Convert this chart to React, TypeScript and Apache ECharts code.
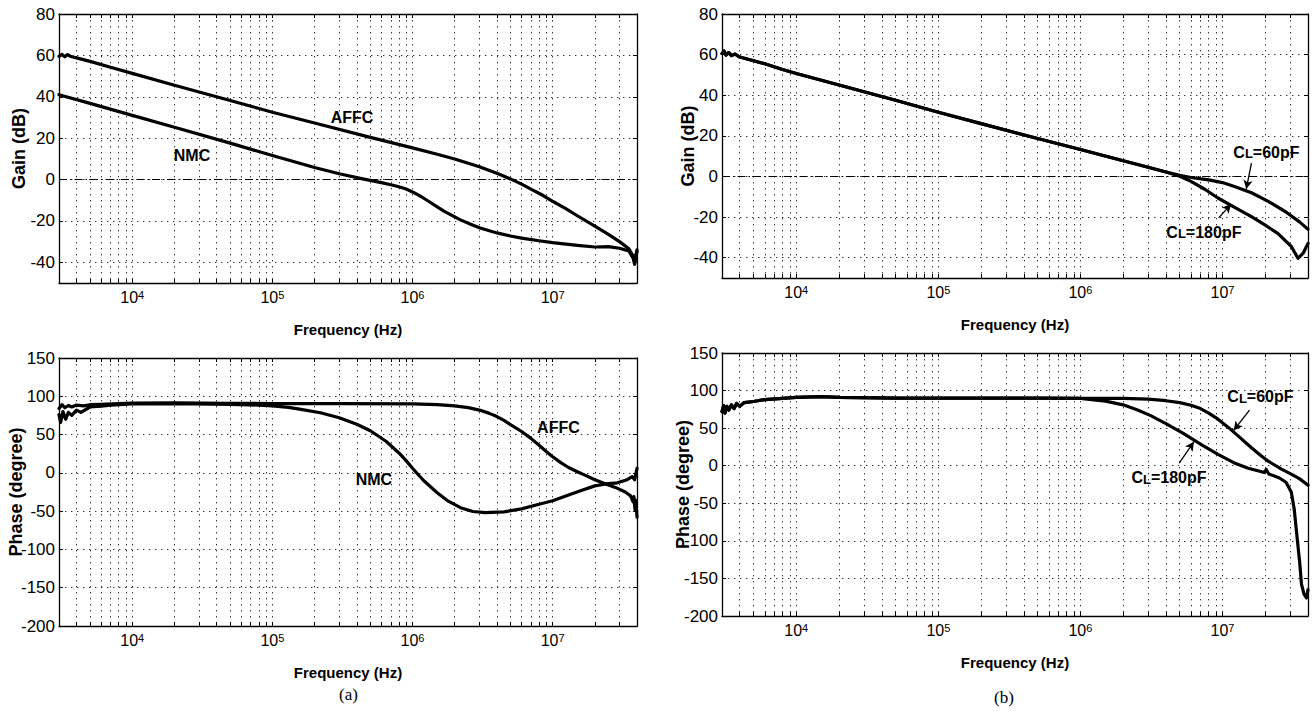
import React, { useEffect, useRef } from 'react';
import * as echarts from 'echarts';

const FONT = "'Liberation Sans', Arial, Helvetica, sans-serif";

// ---- axes ----
const F_MIN = 3000;
const F_MAX = 4e7;
const decadeLabels = [1e4, 1e5, 1e6, 1e7];
const mantissas = [1, 2, 3, 4, 5, 6, 7, 8, 9];
const decades = [1e3, 1e4, 1e5, 1e6, 1e7];
const gainTicks = [-40, -20, 0, 20, 40, 60, 80];
const phaseTicks = [-200, -150, -100, -50, 0, 50, 100, 150];
const GAIN_MIN = -50, GAIN_MAX = 80;
const PHASE_MIN = -200, PHASE_MAX = 150;

// ---- (a) gain (dB) ----
const affcGainA: [number, number][] = [
  [3000, 59.5], [3150, 60.5], [3300, 59.3], [3450, 60.4], [3600, 59.6], [4000, 58.8], [5000, 57.1], [7000, 54.3],
  [1e4, 51.3], [2e4, 45.6], [5e4, 38.2], [1e5, 32.5], [2e5, 27.3], [5e5, 20.4], [1e6, 15.3], [1.5e6, 12.2],
  [2e6, 9.9], [3e6, 6.2], [4e6, 3.0], [5e6, 0.3], [6e6, -2.2], [7e6, -4.6], [8.5e6, -7.6], [1e7, -10.5],
  [1.25e7, -14.2], [1.5e7, -17.5], [2e7, -22.5], [2.5e7, -26.5], [3e7, -30], [3.5e7, -33.5], [3.75e7, -37],
  [3.85e7, -40], [3.92e7, -36.5], [4e7, -35],
];
const nmcGainA: [number, number][] = [
  [3000, 41], [5000, 36.8], [1e4, 31], [2e4, 25.3], [5e4, 17.6], [1e5, 11.6], [2e5, 5.8], [3e5, 2.8],
  [4.5e5, 0.2], [6e5, -1.5], [7e5, -2.5], [8e5, -3.5], [9e5, -4.6], [1e6, -6], [1.15e6, -8.2], [1.3e6, -10.5],
  [1.5e6, -13.2], [1.7e6, -15.5], [2.2e6, -19.5], [2.6e6, -21.6], [3e6, -23.3], [4e6, -25.8], [5e6, -27.3],
  [6e6, -28.3], [8e6, -29.6], [1e7, -30.5], [1.5e7, -31.8], [2e7, -32.6], [2.5e7, -32.4], [3e7, -33.2],
  [3.5e7, -34.5], [3.75e7, -38], [3.85e7, -41], [3.92e7, -37], [4e7, -34],
];

// ---- (a) phase (degree) ----
const affcPhaseA: [number, number][] = [
  [3000, 84], [3150, 89], [3300, 85], [3500, 88], [3700, 86], [4000, 88.5], [4500, 87.5], [5000, 89], [6000, 89.5],
  [8000, 90.5], [1e4, 91], [2e4, 91.3], [5e4, 90.8], [1e5, 90.5], [3e5, 90.3], [1e6, 90], [1.5e6, 89], [2e6, 87.5],
  [2.5e6, 85.2], [3e6, 82], [3.5e6, 78], [4e6, 73.5], [4.5e6, 68.5], [5e6, 63], [6e6, 54], [7e6, 45], [8e6, 36],
  [9e6, 28], [1e7, 21], [1.15e7, 13], [1.3e7, 7], [1.5e7, 1.5], [1.7e7, -3], [2e7, -9], [2.2e7, -12], [2.5e7, -15.8],
  [2.8e7, -19], [3.3e7, -25], [3.6e7, -30], [3.75e7, -38], [3.8e7, -31], [3.87e7, -48], [3.93e7, -36], [4e7, -58],
];
const nmcPhaseA: [number, number][] = [
  [3000, 76], [3080, 66], [3200, 80], [3350, 70], [3500, 79], [3700, 75], [4000, 82], [4300, 79], [5000, 86],
  [6000, 87], [7000, 88.5], [1e4, 90], [2e4, 90.5], [5e4, 89.5], [7e4, 88.8], [1e5, 87.5], [1.3e5, 85.5],
  [1.6e5, 83], [2.2e5, 78.5], [3e5, 72], [4e5, 63.5], [5e5, 55], [6.5e5, 41], [8e5, 26], [9e5, 16], [1e6, 6],
  [1.1e6, -2.5], [1.2e6, -10], [1.35e6, -18.5], [1.5e6, -26], [1.8e6, -37], [2.2e6, -45.5], [2.7e6, -50.5],
  [3.3e6, -52], [4.5e6, -51], [6e6, -47], [8e6, -41], [1e7, -36.5], [1.3e7, -29], [1.6e7, -23], [2e7, -17],
  [2.4e7, -14.5], [2.9e7, -13], [3.4e7, -9], [3.7e7, -5], [3.85e7, -9], [4e7, 6],
];

// ---- (b) gain (dB) ----
const commonGainB: [number, number][] = [
  [3000, 60.5], [3100, 61.8], [3200, 59.8], [3350, 61], [3500, 59.5], [3700, 60.3], [4000, 58.8], [5000, 57],
  [6000, 55.5], [8000, 52.7], [1e4, 50.7], [2e4, 45], [5e4, 37.5], [1e5, 31.6], [2e5, 26], [5e5, 18.7],
  [1e6, 13.3], [2e6, 7.7], [3e6, 4.5], [4e6, 2.2],
];
const c60GainTail: [number, number][] = [
  [5e6, 0.6], [6e6, -0.5], [8e6, -1.7], [1e7, -3], [1.2e7, -4.8], [1.6e7, -8], [2.1e7, -12.3],
  [2.8e7, -17.5], [3.5e7, -22.5], [4e7, -26],
];
const c180GainTail: [number, number][] = [
  [5e6, 0.1], [6e6, -2.4], [7.5e6, -6.3], [9.3e6, -10.6], [1.2e7, -15], [1.6e7, -19.8], [2e7, -24],
  [2.45e7, -28], [3.06e7, -34.6], [3.4e7, -40.3], [3.7e7, -37.8], [3.95e7, -33.7], [4e7, -33],
];

// ---- (b) phase (degree) ----
const commonPhaseB: [number, number][] = [
  [3000, 72], [3080, 80], [3150, 70], [3250, 79], [3350, 74], [3500, 81], [3650, 76], [3800, 83], [4000, 79],
  [4300, 84], [5000, 85.5], [6000, 88], [8000, 89.5], [1e4, 91], [1.5e4, 92], [2e4, 91], [5e4, 90], [1e5, 90],
  [5e5, 90], [1e6, 89.5],
];
const c60PhaseTail: [number, number][] = [
  [2e6, 89.5], [3e6, 88.5], [4e6, 86.5], [5e6, 84], [6e6, 80.5], [7e6, 76], [8e6, 70], [9.3e6, 62],
  [1.1e7, 51], [1.3e7, 39], [1.6e7, 24], [1.85e7, 14], [2.1e7, 6], [2.6e7, -4.5], [3e7, -10.5], [3.5e7, -17.5],
  [4e7, -26],
];
const c180PhaseTail: [number, number][] = [
  [1.5e6, 86], [2e6, 81], [2.5e6, 74.5], [3.1e6, 67], [4e6, 56], [5.3e6, 43], [7.1e6, 28], [9.3e6, 15],
  [1.2e7, 4], [1.5e7, -3], [1.97e7, -9], [2.03e7, -5], [2.12e7, -11], [2.5e7, -16], [2.8e7, -22], [3.05e7, -35],
  [3.2e7, -58], [3.35e7, -95], [3.5e7, -130], [3.6e7, -158], [3.75e7, -171], [3.9e7, -176], [4e7, -165],
];

// ---- annotations: [freq, value] ----
const annA = { affcGain: [3.7e5, 30.2], nmcGain: [2.67e4, 11.8], affcPhase: [1.1e7, 59], nmcPhase: [5.3e5, -8.7] };
const annB = {
  c60Gain: [2.04e7, 12], c60GainArrow: [[1.6e7, 6.6], [1.47e7, -6.2]],
  c180Gain: [7.4e6, -27.5], c180GainArrow: [[9.4e6, -20.4], [1.15e7, -13.6]],
  c60Phase: [1.85e7, 92], c60PhaseArrow: [[1.55e7, 74], [1.2e7, 47]],
  c180Phase: [4.2e6, -16], c180PhaseArrow: [[4.96e6, 3.6], [6.3e6, 32]],
};

const lg = (f: number) => Math.log10(f);
const toXY = (arr: [number, number][]) => arr.map(([f, v]) => [lg(f), v]);

function buildOption() {
  const xMin = lg(F_MIN), xMax = lg(F_MAX);
  const gridFreqs: number[] = [];
  decades.forEach((d) => mantissas.forEach((m) => {
    const f = m * d;
    if (f > F_MIN * 1.001 && f < F_MAX * 0.999) gridFreqs.push(f);
  }));
  const xTickVals = gridFreqs.map(lg);
  const xLabelVals = decadeLabels.map(lg);

  const grids = [
    { left: 59, top: 14, width: 578, height: 269 },
    { left: 59, top: 358, width: 578, height: 268 },
    { left: 722, top: 14, width: 586, height: 264 },
    { left: 722, top: 353, width: 586, height: 263 },
  ];
  const yDefs = [
    { min: GAIN_MIN, max: GAIN_MAX, ticks: gainTicks, name: 'Gain (dB)', gap: 31 },
    { min: PHASE_MIN, max: PHASE_MAX, ticks: phaseTicks, name: 'Phase (degree)', gap: 34 },
    { min: GAIN_MIN, max: GAIN_MAX, ticks: gainTicks, name: 'Gain (dB)', gap: 25 },
    { min: PHASE_MIN, max: PHASE_MAX, ticks: phaseTicks, name: 'Phase (degree)', gap: 30 },
  ];
  const lineCol = '#000';
  const dotted = { type: [1.4, 4.6], color: '#333', width: 1 };
  const xNameStyle = { fontFamily: FONT, fontWeight: 'bold', fontSize: 15, color: '#000' };
  const yNameStyle = { fontFamily: FONT, fontWeight: 'bold', fontSize: 18, color: '#000' };

  const xAxis: any[] = [];
  const yAxis: any[] = [];
  grids.forEach((_, g) => {
    xAxis.push({
      type: 'value', gridIndex: g, position: 'bottom', min: xMin, max: xMax,
      axisLine: { show: true, onZero: false, lineStyle: { color: lineCol, width: 1.3 } },
      axisTick: { show: true, inside: true, length: 4, customValues: xTickVals, lineStyle: { color: lineCol, width: 1 } },
      axisLabel: {
        show: true, customValues: xLabelVals, margin: 6, color: '#000', fontFamily: FONT,
        formatter: (v: number) => `{b|10}{s|${Math.round(v)}}`,
        rich: {
          b: { fontFamily: FONT, fontSize: 16, lineHeight: 16, padding: [6, 0, 0, 0], verticalAlign: 'bottom', color: '#000' },
          s: { fontFamily: FONT, fontSize: 11, lineHeight: 11, verticalAlign: 'top', color: '#000' },
        },
      },
      splitLine: { show: true, lineStyle: dotted },
      name: 'Frequency (Hz)', nameLocation: 'middle', nameGap: 39, nameTextStyle: xNameStyle,
      nameMoveOverlap: false,
    });
    xAxis.push({
      type: 'value', gridIndex: g, position: 'top', min: xMin, max: xMax,
      axisLine: { show: true, onZero: false, lineStyle: { color: lineCol, width: 1.3 } },
      axisTick: { show: true, inside: true, length: 4, customValues: xTickVals, lineStyle: { color: lineCol, width: 1 } },
      axisLabel: { show: false }, splitLine: { show: false },
    });
    const yd = yDefs[g];
    yAxis.push({
      type: 'value', gridIndex: g, position: 'left', min: yd.min, max: yd.max,
      axisLine: { show: true, onZero: false, lineStyle: { color: lineCol, width: 1.3 } },
      axisTick: { show: true, inside: true, length: 4, customValues: yd.ticks, lineStyle: { color: lineCol, width: 1 } },
      axisLabel: { show: true, customValues: yd.ticks, margin: 4, color: '#000', fontFamily: FONT, fontSize: 17 },
      splitLine: { show: true, lineStyle: dotted },
      name: yd.name, nameLocation: 'middle', nameGap: yd.gap, nameTextStyle: yNameStyle,
      nameMoveOverlap: false,
    });
    yAxis.push({
      type: 'value', gridIndex: g, position: 'right', min: yd.min, max: yd.max,
      axisLine: { show: true, onZero: false, lineStyle: { color: lineCol, width: 1.3 } },
      axisTick: { show: true, inside: true, length: 4, customValues: yd.ticks, lineStyle: { color: lineCol, width: 1 } },
      axisLabel: { show: false }, splitLine: { show: false },
    });
  });

  const curve = (name: string, g: number, data: [number, number][], extra: any = {}) => ({
    type: 'line', name, xAxisIndex: 2 * g, yAxisIndex: 2 * g, data: toXY(data),
    showSymbol: false, symbol: 'none', smooth: false,
    lineStyle: { color: '#000', width: 3.2, join: 'round', cap: 'round' }, z: 5, ...extra,
  });
  const zeroLine = (g: number) => ({
    type: 'line', name: '0 dB', xAxisIndex: 2 * g, yAxisIndex: 2 * g, data: [[xMin, 0], [xMax, 0]],
    showSymbol: false, symbol: 'none', lineStyle: { color: '#000', width: 1.1, type: [8, 3, 1.5, 3] }, z: 3,
  });
  const labelStyle = { fontFamily: FONT, fontWeight: 'bold', fontSize: 16, color: '#000' };
  const richCL = {
    c: { fontFamily: FONT, fontWeight: 'bold', fontSize: 16, lineHeight: 16, verticalAlign: 'top', color: '#000' },
    l: { fontFamily: FONT, fontWeight: 'bold', fontSize: 13, lineHeight: 13, padding: [10, 0, 0, 0], verticalAlign: 'bottom', color: '#000' },
  };
  const mp = (pt: number[], text: string, rich = false) => ({
    coord: [lg(pt[0]), pt[1]],
    symbol: 'circle', symbolSize: 1, itemStyle: { color: 'rgba(0,0,0,0)' },
    label: {
      show: true, position: 'inside', formatter: text, ...labelStyle,
      ...(rich ? { rich: richCL } : {}),
    },
  });
  const arrow = (seg: number[][]) => [
    { coord: [lg(seg[0][0]), seg[0][1]] },
    { coord: [lg(seg[1][0]), seg[1][1]] },
  ];
  const markLines = (segs: number[][][]) => ({
    silent: true, symbol: ['none', 'arrow'], symbolSize: [7, 9], animation: false,
    lineStyle: { color: '#000', width: 1.3, type: 'solid' }, label: { show: false },
    data: segs.map(arrow),
  });
  const markPoints = (pts: any[]) => ({ silent: true, animation: false, data: pts });

  const series: any[] = [
    zeroLine(0),
    curve('AFFC', 0, affcGainA, { markPoint: markPoints([mp(annA.affcGain, 'AFFC'), mp(annA.nmcGain, 'NMC')]) }),
    curve('NMC', 0, nmcGainA),
    curve('AFFC', 1, affcPhaseA, { markPoint: markPoints([mp(annA.affcPhase, 'AFFC'), mp(annA.nmcPhase, 'NMC')]) }),
    curve('NMC', 1, nmcPhaseA),
    zeroLine(2),
    curve('CL=60pF', 2, [...commonGainB, ...c60GainTail], {
      markPoint: markPoints([mp(annB.c60Gain, '{c|C}{l|L}{c|=60pF}', true), mp(annB.c180Gain, '{c|C}{l|L}{c|=180pF}', true)]),
      markLine: markLines([annB.c60GainArrow, annB.c180GainArrow]),
    }),
    curve('CL=180pF', 2, [...commonGainB, ...c180GainTail]),
    curve('CL=60pF', 3, [...commonPhaseB, ...c60PhaseTail], {
      markPoint: markPoints([mp(annB.c60Phase, '{c|C}{l|L}{c|=60pF}', true), mp(annB.c180Phase, '{c|C}{l|L}{c|=180pF}', true)]),
      markLine: markLines([annB.c60PhaseArrow, annB.c180PhaseArrow]),
    }),
    curve('CL=180pF', 3, [...commonPhaseB, ...c180PhaseTail]),
  ];

  return {
    animation: false,
    backgroundColor: '#fff',
    grid: grids.map((r) => ({ ...r, containLabel: false, outerBoundsMode: 'none' })),
    xAxis, yAxis, series,
    graphic: [
      { type: 'text', left: 339, top: 686, style: { text: '(a)', fontFamily: "'Liberation Serif', 'Times New Roman', serif", fontSize: 17, fill: '#000' } },
      { type: 'text', left: 994, top: 689, style: { text: '(b)', fontFamily: "'Liberation Serif', 'Times New Roman', serif", fontSize: 17, fill: '#000' } },
    ],
  };
}

export default function App() {
  const ref = useRef<HTMLDivElement>(null);
  useEffect(() => {
    if (!ref.current) return;
    const chart = echarts.init(ref.current, null, { renderer: 'svg' });
    chart.setOption(buildOption() as any);
    return () => chart.dispose();
  }, []);
  return (
    <div
      ref={ref}
      style={{ position: 'fixed', left: 0, top: 0, width: 1312, height: 715, background: '#fff' }}
    />
  );
}
